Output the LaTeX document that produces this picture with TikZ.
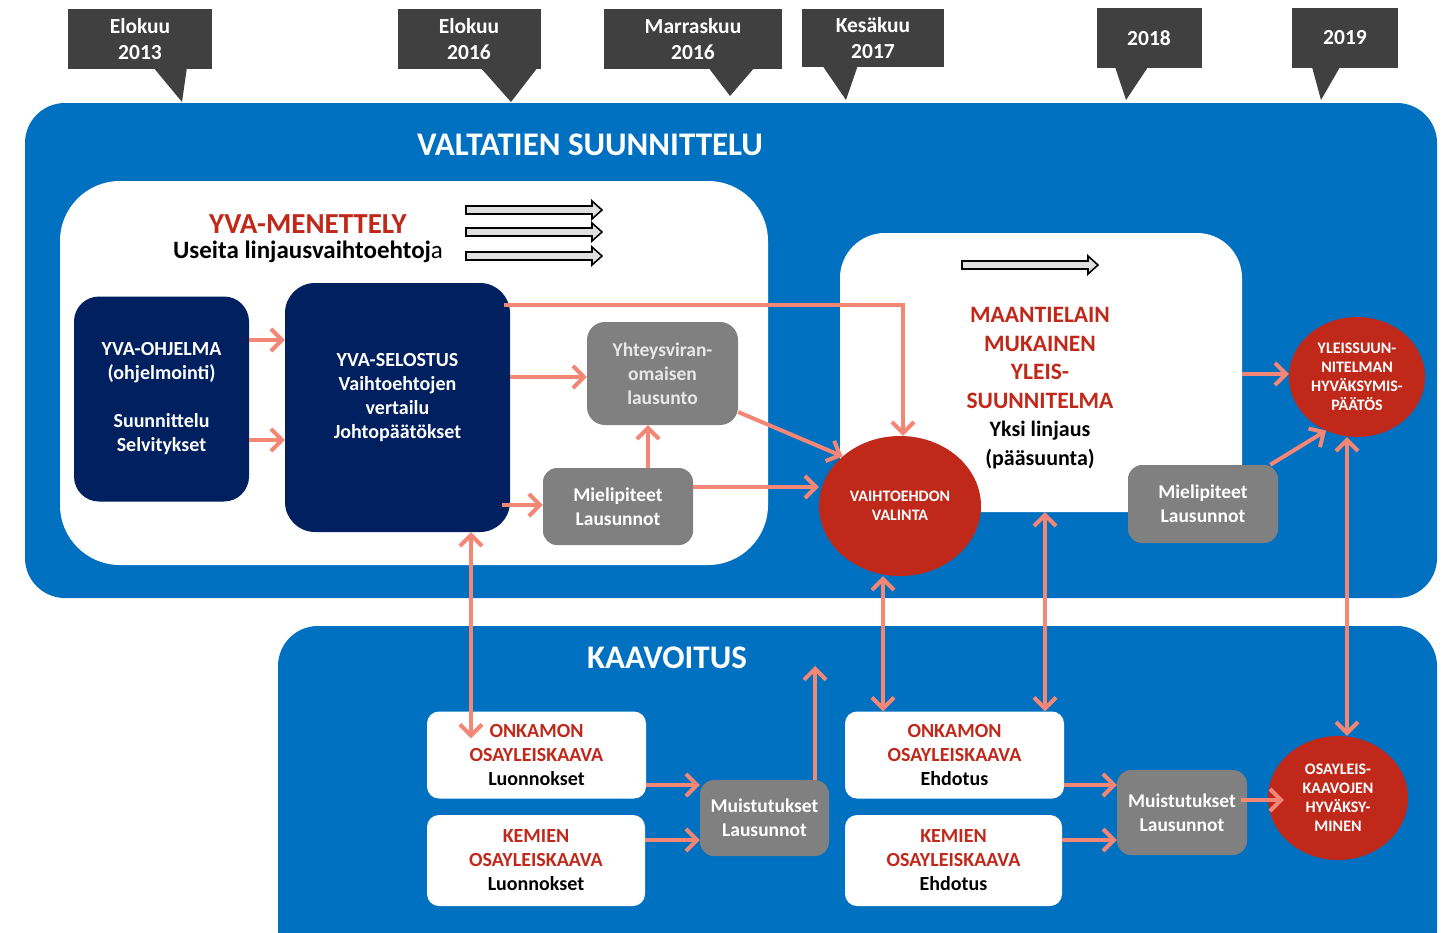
\documentclass[tikz,border=0pt]{standalone}
\usepackage{fontspec}
\setmainfont{Carlito}
\usepackage{tikz}
\usetikzlibrary{calc,shapes.geometric,arrows.meta}

\definecolor{calloutgray}{HTML}{404040}
\definecolor{panelblue}{HTML}{0070C0}
\definecolor{navy}{HTML}{002060}
\definecolor{boxgray}{HTML}{808080}
\definecolor{decred}{HTML}{C0281A}
\definecolor{salmon}{HTML}{F48676}

\tikzset{
    callout/.style={fill=calloutgray, text=white, align=center, inner sep=0pt, font=\bfseries\fontsize{21.5}{26}\selectfont},
    panel/.style={fill=panelblue, rounded corners=40pt, inner sep=0pt},
    whitepanel/.style={fill=white, inner sep=0pt},
    navybox/.style={fill=navy, text=white, align=center, inner sep=0pt, font=\bfseries\fontsize{20}{24}\selectfont},
    graybox/.style={fill=boxgray, text=white, align=center, inner sep=0pt, rounded corners=14pt, font=\bfseries\fontsize{19.5}{24}\selectfont},
    plan/.style={fill=white, align=center, inner sep=0pt, rounded corners=12pt, font=\bfseries\fontsize{20}{24}\selectfont},
    decision/.style={ellipse, fill=decred, text=white, align=center, inner sep=0pt, font=\bfseries\fontsize{16}{19}\selectfont},
    flow/.style={draw=salmon, line width=4pt, -{Straight Barb[length=11pt,width=22pt]}},
    biflow/.style={draw=salmon, line width=4pt, {Straight Barb[length=11pt,width=22pt]}-{Straight Barb[length=11pt,width=22pt]}},
    blockarrow/.style={draw=black, fill=gray!25, line width=1.6pt, line join=miter},
}

\begin{document}
\begin{tikzpicture}[x=1pt, y=-1pt]
    \useasboundingbox (0,0) rectangle (1453,932);

    % timeline
    \node[callout, minimum width=144pt, minimum height=60pt] (c13) at (140,39) {Elokuu\\2013};
    \node[callout, minimum width=143pt, minimum height=60pt] (c16a) at (469,39) {Elokuu\\2016};
    \node[callout, minimum width=178pt, minimum height=60pt] (c16b) at (693,39) {Marraskuu\\2016};
    \node[callout, minimum width=142pt, minimum height=58pt] (c17) at (873,38) {Kesäkuu\\2017};
    \node[callout, minimum width=105pt, minimum height=60pt] (c18) at (1149,38) {2018};
    \node[callout, minimum width=106pt, minimum height=60pt] (c19) at (1345,38) {2019};

    \fill[calloutgray] (153,67) -- (187,67) -- (182,102) -- cycle;
    \fill[calloutgray] (480,67) -- (538,67) -- (511,102) -- cycle;
    \fill[calloutgray] (708,67) -- (755,67) -- (730,96) -- cycle;
    \fill[calloutgray] (822,65) -- (858,65) -- (846,100) -- cycle;
    \fill[calloutgray] (1115,67) -- (1148,67) -- (1126,100) -- cycle;
    \fill[calloutgray] (1312,67) -- (1340,67) -- (1321,100) -- cycle;

    % valtatien suunnittelu
    \node[panel, minimum width=1412pt, minimum height=495pt] (vts) at (731,350.5) {};
    \node[text=white, font=\bfseries\fontsize{33}{36}\selectfont] (vtstitle) at (590,145) {VALTATIEN SUUNNITTELU};

    \node[whitepanel, rounded corners=60pt, minimum width=708pt, minimum height=384pt] (yva) at (414,373) {};
    \node[text=decred, font=\bfseries\fontsize{29}{32}\selectfont] (yvatitle) at (308,224) {YVA-MENETTELY};
    \node[font=\bfseries\fontsize{25}{28}\selectfont] (useita) at (308,252) {Useita linjausvaihtoehtoj{\mdseries a}};

    \foreach \y in {210,232,256}
        \draw[blockarrow] (466,\y-4) -- (592,\y-4) -- (592,\y-9) -- (602,\y) -- (592,\y+9) -- (592,\y+4) -- (466,\y+4) -- cycle;

    \node[navybox, rounded corners=25pt, minimum width=175pt, minimum height=205pt] (ohj) at (161.5,399)
        {YVA-OHJELMA\\(ohjelmointi)\\[24pt]Suunnittelu\\Selvitykset};
    \node[navybox, rounded corners=30pt, minimum width=225pt, minimum height=249pt] (sel) at (397.5,407.5)
        {YVA-SELOSTUS\\Vaihtoehtojen\\vertailu\\Johtopäätökset\\[-1pt]};
    \node[graybox, rounded corners=18pt, minimum width=151pt, minimum height=103pt, text=white!82!gray] (yht) at (662.5,373.5)
        {Yhteysviran-\\omaisen\\lausunto};
    \node[graybox, minimum width=150pt, minimum height=77pt] (mie1) at (618,506.5) {Mielipiteet\\Lausunnot};

    \node[whitepanel, rounded corners=45pt, minimum width=402pt, minimum height=279pt] (mtl) at (1041,372.5) {};
    \draw[blockarrow] (962,261) -- (1088,261) -- (1088,256) -- (1098,265) -- (1088,274) -- (1088,269) -- (962,269) -- cycle;
    \node[align=center, font=\bfseries\fontsize{23.5}{28.5}\selectfont] (mtltext) at (1040,388)
        {\textcolor{decred}{MAANTIELAIN}\\\textcolor{decred}{MUKAINEN}\\\textcolor{decred}{YLEIS-}\\\textcolor{decred}{SUUNNITELMA}\\{\fontsize{22}{27}\selectfont Yksi linjaus}\\{\fontsize{22}{27}\selectfont(pääsuunta)}};
    \node[graybox, minimum width=150pt, minimum height=78pt] (mie2) at (1203,504) {Mielipiteet\\Lausunnot};

    % kaavoitus
    \node[panel, minimum width=1159pt, minimum height=346pt] (kaav) at (857.5,799) {};
    \node[text=white, font=\bfseries\fontsize{33}{36}\selectfont] (kaavtitle) at (667,658) {KAAVOITUS};

    \node[plan, minimum width=219pt, minimum height=87pt] (onk1) at (536.5,755)
        {\textcolor{decred}{ONKAMON}\\\textcolor{decred}{OSAYLEISKAAVA}\\Luonnokset};
    \node[plan, minimum width=218pt, minimum height=91pt] (kem1) at (536,860.5)
        {\textcolor{decred}{KEMIEN}\\\textcolor{decred}{OSAYLEISKAAVA}\\Luonnokset};
    \node[plan, minimum width=219pt, minimum height=87pt] (onk2) at (954.5,755)
        {\textcolor{decred}{ONKAMON}\\\textcolor{decred}{OSAYLEISKAAVA}\\Ehdotus};
    \node[plan, minimum width=217pt, minimum height=91pt] (kem2) at (953.5,860.5)
        {\textcolor{decred}{KEMIEN}\\\textcolor{decred}{OSAYLEISKAAVA}\\Ehdotus};
    \node[graybox, minimum width=129pt, minimum height=76pt] (mui1) at (764.5,818) {Muistutukset\\Lausunnot};
    \node[graybox, minimum width=130pt, minimum height=85pt] (mui2) at (1182,812.5) {Muistutukset\\Lausunnot};
    \coordinate (kaavup) at (815,666);

    % decisions
    \node[decision, minimum width=162pt, minimum height=140pt] (vaih) at (900,506) {VAIHTOEHDON\\VALINTA};
    \node[decision, minimum width=136pt, minimum height=120pt] (yleis) at (1357,377) {YLEISSUUN-\\NITELMAN\\HYVÄKSYMIS-\\PÄÄTÖS};
    \node[decision, minimum width=140pt, minimum height=124pt] (osay) at (1338,798) {OSAYLEIS-\\KAAVOJEN\\HYVÄKSY-\\MINEN};

    % connectors
    \draw[flow] (ohj.east |- 0,340) -- (sel.west |- 0,340);
    \draw[flow] (ohj.east |- 0,440) -- (sel.west |- 0,440);
    \draw[flow] (sel.east |- 0,377) -- (yht.west |- 0,377);
    \draw[flow] (648,0 |- mie1.north) -- (648,0 |- yht.south);
    \draw[flow] ($(sel.east |- 0,505)+(-8,0)$) -- (mie1.west |- 0,505);
    \draw[flow] (mie1.east |- 0,487) -- (vaih.west |- 0,487);
    \draw[flow] ($(sel.east |- 0,305)+(-6,0)$) -- (903,305) -- (903,0 |- vaih.north);
    \draw[flow] (yht.east |- 0,412) -- (vaih.north west);
    \draw[flow] (mtl.east |- 0,374) -- (yleis.west |- 0,374);
    \draw[flow] ($(mie2.north east)+(-8,0)$) -- (yleis.240);
    \draw[biflow] (1347,0 |- yleis.south) -- (1347,0 |- osay.north);

    \draw[biflow] (471,0 |- sel.south) -- ($(471,0 |- onk1.north)+(0,27)$);
    \draw[biflow] (883,0 |- vaih.south) -- (883,0 |- onk2.north);
    \draw[biflow] (1045,0 |- mtl.south) -- (1045,0 |- onk2.north);
    \draw[flow] (815,0 |- mui1.north) -- (kaavup);
    \draw[flow] (onk1.east |- 0,785) -- (mui1.west |- 0,785);
    \draw[flow] (kem1.east |- 0,840) -- (mui1.west |- 0,840);
    \draw[flow] (onk2.east |- 0,785) -- (mui2.west |- 0,785);
    \draw[flow] (kem2.east |- 0,840) -- (mui2.west |- 0,840);
    \draw[flow] ($(mui2.east |- 0,800)+(-6,0)$) -- ($(osay.west |- 0,800)+(16,0)$);

\end{tikzpicture}
\end{document}
